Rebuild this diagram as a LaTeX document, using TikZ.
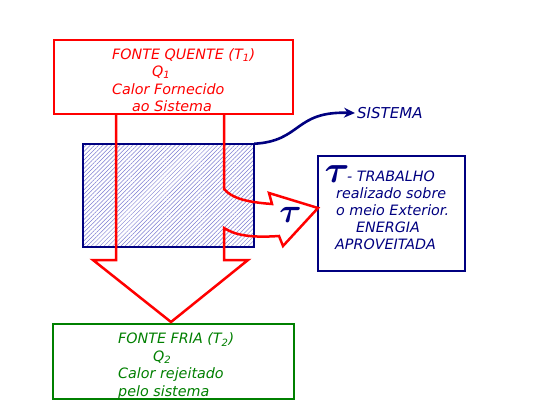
\documentclass[tikz,border=0pt]{standalone}
\usepackage{fix-cm}
\usepackage{amsmath}
\usepackage{fontspec}
\setmainfont{DejaVu Sans}
\usetikzlibrary{arrows.meta,patterns.meta}
\definecolor{azul}{RGB}{0,0,128}
\definecolor{verde}{RGB}{0,128,0}
\definecolor{vermelho}{RGB}{255,0,0}
\definecolor{hachura}{RGB}{125,125,210}
\begin{document}
\begin{tikzpicture}[x=1pt,y=-1pt]
\tikzstyle{caixa}=[draw,line width=2.2pt,inner sep=0pt]
\tikzstyle{texto}=[anchor=north west,inner sep=0pt,align=left,font=\fontsize{14.3}{17.5}\selectfont\itshape]
\tikzstyle{letra tau}=[azul,inner sep=0pt]
\useasboundingbox[fill=white] (0,0) rectangle (540,418);
% sistema (hachurado)
\node[caixa,draw=azul,line width=2pt,minimum width=171pt,minimum height=103pt,
  pattern={Lines[angle=45,distance=3pt,line width=0.5pt]},pattern color=hachura] (sis) at (168.5,195.5) {};
% fontes
\node[caixa,draw=vermelho,minimum width=239pt,minimum height=74pt] (quente) at (173.5,77) {};
\node[caixa,draw=verde,line width=2pt,minimum width=241pt,minimum height=75pt] (fria) at (173.5,361.5) {};
\node[caixa,draw=azul,minimum width=147pt,minimum height=115pt] (trab) at (391.5,213.5) {};
\node[texto,vermelho] (quente txt) at (112,48) {FONTE QUENTE (T\textsubscript{1})\\
  \hspace*{40pt}Q\textsubscript{1}\\
  Calor Fornecido\\
  \hspace*{20pt}ao Sistema};
\node[texto,verde] (fria txt) at (118,332.5) {FONTE FRIA (T\textsubscript{2})\\
  \hspace*{35pt}Q\textsubscript{2}\\
  Calor rejeitado\\
  pelo sistema};
\node[texto,azul,font=\fontsize{14.3}{16.8}\selectfont\itshape] (trab txt) at (328,171) {\hspace*{19pt}- TRABALHO\\
  \hspace*{8pt}realizado sobre\\
  \hspace*{8pt}o meio Exterior.\\
  \hspace*{28pt}ENERGIA\\
  \hspace*{7pt}APROVEITADA};
\node[letra tau,font=\fontsize{38}{38}\selectfont] (trab tau) at (337,174.5) {$\boldsymbol{\tau}$};
\node[texto,azul,anchor=west,inner sep=2pt,font=\fontsize{15}{17}\selectfont\itshape] (rotulo) at (355,113) {SISTEMA};
% calor: seta grande e seta do trabalho
\draw[vermelho,line width=2.5pt,line join=miter]
  (116,114) -- (116,260) -- (93,260) -- (171,322) -- (248,260) -- (224,260) -- (224,228)
  .. controls (235,235) and (250,238) .. (279,236) -- (283,246) -- (318,208) -- (269,193)
  -- (272,204) .. controls (245,202) and (232,198) .. (224,189) -- (224,114);
\node[letra tau,font=\fontsize{34}{34}\selectfont] (tau) at (290.5,215) {$\boldsymbol{\tau}$};
\draw[azul,line width=2.6pt,-{Stealth[length=11pt,width=10pt]}]
  (sis.north east) .. controls (302,141) and (294,111) .. (rotulo.west);
\end{tikzpicture}
\end{document}
